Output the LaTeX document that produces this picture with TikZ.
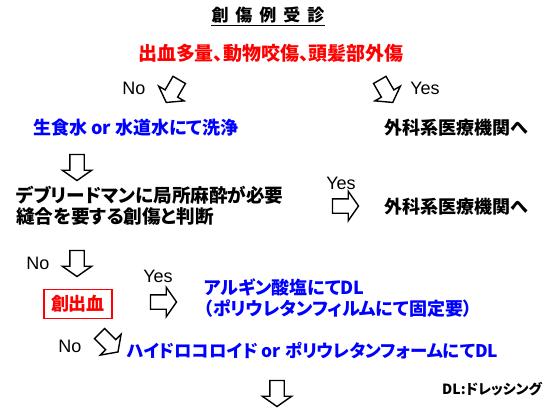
\documentclass[tikz,border=0pt]{standalone}
\usepackage{fontspec}
\setmainfont{Liberation Sans}
\newfontfamily\jp{Noto Sans CJK JP}[RawFeature=+palt]
\usetikzlibrary{shapes.arrows}
\definecolor{jred}{RGB}{255,0,0}
\definecolor{jblue}{RGB}{0,0,255}
\tikzset{
  jtext/.style={inner sep=0pt, font=\jp\bfseries\fontsize{18}{21}\selectfont},
  yn/.style={inner sep=0pt, font=\fontsize{18}{21}\selectfont},
  blockarrow/.style={single arrow, draw=black, fill=white, line width=1.4pt,
    minimum width=0pt, minimum height=26pt, inner xsep=0pt, inner ysep=6.5pt,
    single arrow head extend=7.5pt, single arrow tip angle=110, line join=miter}
}
\begin{document}
\begin{tikzpicture}[x=1pt,y=-1pt]
\useasboundingbox (0,0) rectangle (550,413);
% title
\node[jtext, font=\jp\bfseries\fontsize{17}{19}\selectfont] (title) at (268,15)
  {創\hspace{7pt}傷\hspace{7pt}例\hspace{7pt}受\hspace{7pt}診};
\draw[line width=1.2pt] ([yshift=-2pt]title.south west) -- ([yshift=-2pt]title.south east);
% first question
\node[jtext, text=jred, font=\jp\bfseries\fontsize{19}{21}\selectfont] (q1) at (271,53) {出血多量、動物咬傷、頭髪部外傷};
\node[yn] (no1) at (134,88) {No};
\node[blockarrow, rotate=240] (a1) at (174,89) {};
\node[blockarrow, rotate=300] (a2) at (385,89) {};
\node[yn] (yes1) at (425,88) {Yes};
\node[jtext, text=jblue, anchor=west] (wash) at (33,128) {生食水 or 水道水にて洗浄};
\node[jtext, anchor=west] (surg1) at (384,128) {外科系医療機関へ};
% second question
\node[blockarrow, rotate=-90] (a3) at (77,165) {};
\node[jtext, anchor=west, align=left, font=\jp\bfseries\fontsize{18.6}{21}\selectfont] (deb) at (16,206) {デブリードマンに局所麻酔が必要\\縫合を要する創傷と判断};
\node[yn] (yes2) at (341,183) {Yes};
\node[blockarrow] (a4) at (343,206) {};
\node[jtext, anchor=west] (surg2) at (384,207) {外科系医療機関へ};
\node[yn] (no2) at (38,263) {No};
\node[blockarrow, rotate=-90] (a5) at (77,261) {};
% third question
\node[jtext, text=jred, draw=jred, line width=1.4pt, minimum width=68pt, minimum height=29pt] (bleed) at (78,304) {創出血};
\node[yn] (yes3) at (158,276) {Yes};
\node[blockarrow] (a6) at (161,302) {};
\node[jtext, text=jblue, anchor=west] (alg) at (204,287) {アルギン酸塩にてDL};
\node[jtext, text=jblue, anchor=west] (film) at (204,309) {（ポリウレタンフィルムにて固定要）};
\node[yn] (no3) at (70,346) {No};
\node[blockarrow, rotate=-45] (a7) at (107,341) {};
\node[jtext, text=jblue, anchor=west, font=\jp\bfseries\fontsize{17.4}{21}\selectfont] (hydro) at (127,351) {ハイドロコロイド or ポリウレタンフォームにてDL};
\node[blockarrow, rotate=-90] (a8) at (277,391) {};
\node[jtext, anchor=west, font=\jp\bfseries\fontsize{14}{16}\selectfont] (dl) at (442,389) {DL:ドレッシング};
\end{tikzpicture}
\end{document}
